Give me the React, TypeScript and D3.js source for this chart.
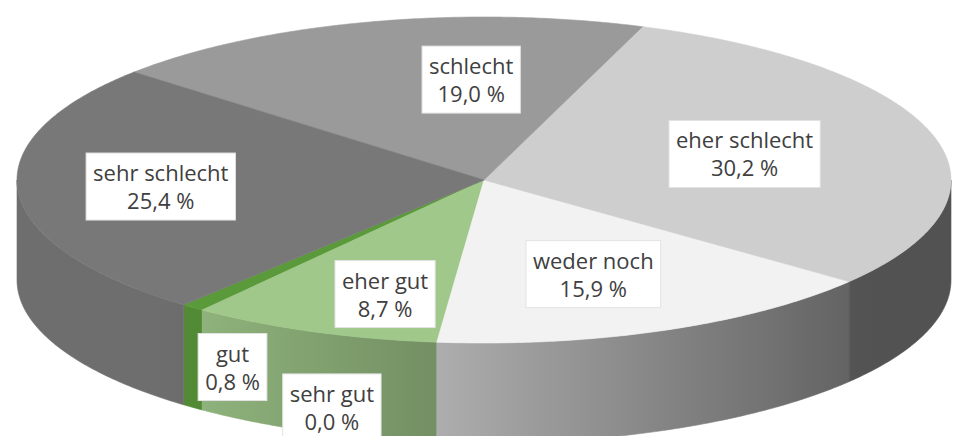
import * as d3 from "d3";
import { useEffect, useRef } from "react";

// answers, in data order (drawn counter-clockwise from the first slice)
const categories = [
  "sehr gut",
  "gut",
  "eher gut",
  "weder noch",
  "eher schlecht",
  "schlecht",
  "sehr schlecht",
];
const values = [0.0, 0.8, 8.7, 15.9, 30.2, 19.0, 25.4];

const topColors = [
  "#6aa84f",
  "#5b9a3a",
  "#a0c88a",
  "#f2f2f2",
  "#cecece",
  "#9a9a9a",
  "#787878",
];

// manual label drags, like in the original workbook
const labelNudge: [number, number][] = [
  [34, 150],
  [-71, 108],
  [7, 20],
  [-3, 1],
  [-18, 1.5],
  [59, -2.5],
  [-34.5, -1],
];

const W = 956;
const H = 436;

const App = () => {
  const svgRef = useRef<SVGSVGElement>(null);

  useEffect(() => {
    const svg = d3.select(svgRef.current);
    svg.selectAll("*").remove();

    const cx = 484;
    const cy = 180;
    const rx = 467;
    const ry = 163;
    const depth = 100;
    const deg = Math.PI / 180;
    const firstAngle = 220 * deg;

    const arcs = d3
      .pie<number>()
      .sort(null)
      .startAngle(firstAngle)
      .endAngle(firstAngle - 2 * Math.PI)(values);

    const pt = (a: number, dy = 0): [number, number] => [
      cx + rx * Math.sin(a),
      cy - ry * Math.cos(a) + dy,
    ];
    const sample = (a0: number, a1: number) => {
      const n = Math.max(2, Math.ceil(Math.abs(a1 - a0) / (0.5 * deg)));
      return d3.range(n + 1).map((i) => a0 + ((a1 - a0) * i) / n);
    };
    const line = d3.line();

    // side lighting: light from the left, darker to the right
    const shade = d3.scaleLinear().domain([202, 858]).range([0.89, 0.404]);
    const defs = svg.append("defs");
    arcs.forEach((_, i) => {
      const grad = defs
        .append("linearGradient")
        .attr("id", `rim-${i}`)
        .attr("gradientUnits", "userSpaceOnUse")
        .attr("x1", cx - rx)
        .attr("x2", cx + rx)
        .attr("y1", 0)
        .attr("y2", 0);
      const base = d3.rgb(topColors[i]);
      d3.range(0, 1.0001, 0.05).forEach((t) => {
        const x = cx - rx + 2 * rx * t;
        const k = Math.max(0.4, Math.min(0.92, shade(x)));
        grad
          .append("stop")
          .attr("offset", t)
          .attr("stop-color", d3.rgb(base.r * k, base.g * k, base.b * k).formatHex());
      });
    });

    // front rim
    const windows = [
      [90 * deg, 270 * deg],
      [-270 * deg, -90 * deg],
    ];
    const rim = svg.append("g");
    arcs.forEach((d, i) => {
      const lo = Math.min(d.startAngle, d.endAngle);
      const hi = Math.max(d.startAngle, d.endAngle);
      windows.forEach(([w0, w1]) => {
        const s = Math.max(lo, w0);
        const e = Math.min(hi, w1);
        if (e - s <= 0) return;
        const top = sample(s, e).map((a) => pt(a));
        const bottom = sample(e, s).map((a) => pt(a, depth));
        rim
          .append("path")
          .attr("d", line([...top, ...bottom]) + "Z")
          .attr("fill", `url(#rim-${i})`)
          .attr("stroke", `url(#rim-${i})`)
          .attr("stroke-width", 0.6);
      });
    });

    // top faces
    const topFace = svg.append("g");
    arcs.forEach((d, i) => {
      if (d.value === 0) return;
      const lo = Math.min(d.startAngle, d.endAngle);
      const hi = Math.max(d.startAngle, d.endAngle);
      const pts: [number, number][] = [[cx, cy], ...sample(lo, hi).map((a) => pt(a))];
      topFace
        .append("path")
        .attr("d", line(pts) + "Z")
        .attr("fill", topColors[i])
        .attr("stroke", topColors[i])
        .attr("stroke-width", 0.6);
    });

    // data labels
    const fmt = (v: number) => `${v.toFixed(1).replace(".", ",")} %`;
    const labels = svg
      .append("g")
      .style("font-family", "'Open Sans', sans-serif")
      .style("font-size", "22px");
    arcs.forEach((d, i) => {
      const mid = (d.startAngle + d.endAngle) / 2;
      const lx = cx + 0.62 * rx * Math.sin(mid) + labelNudge[i][0];
      const ly = cy - 0.62 * ry * Math.cos(mid) + labelNudge[i][1];
      const g = labels.append("g").attr("transform", `translate(${lx},${ly})`);
      const lines = [categories[i], fmt(values[i])];
      const texts = g
        .selectAll("text")
        .data(lines)
        .enter()
        .append("text")
        .attr("x", 0)
        .attr("y", (_, j) => -5.5 + j * 28)
        .attr("text-anchor", "middle")
        .style("fill", "#404040")
        .text((t) => t);
      let maxW = 0;
      texts.each(function () {
        maxW = Math.max(maxW, (this as SVGTextElement).getComputedTextLength());
      });
      const bw = maxW + 14;
      g.insert("rect", "text")
        .attr("x", -bw / 2)
        .attr("y", -33.5)
        .attr("width", bw)
        .attr("height", 67)
        .attr("fill", "#ffffff")
        .attr("stroke", "#e2e2e2")
        .attr("stroke-width", 1);
    });
  }, []);

  return (
    <svg
      ref={svgRef}
      width={W}
      height={H}
      style={{ position: "absolute", left: 0, top: 0, background: "#fff" }}
    />
  );
};

export default App;
